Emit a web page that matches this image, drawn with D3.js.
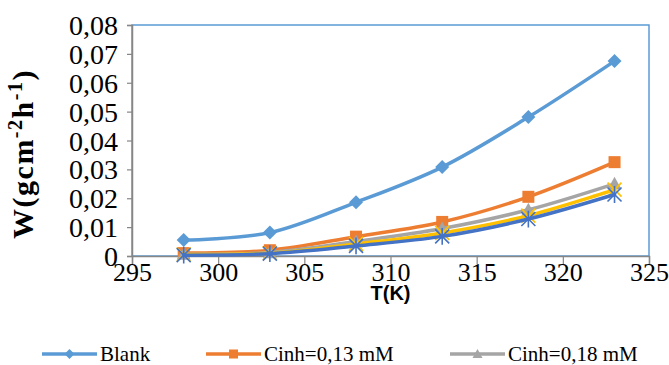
<!DOCTYPE html>
<html>
<head>
<meta charset="utf-8">
<script src="https://cdn.jsdelivr.net/npm/d3@7"></script>
<style>
  body { margin: 0; background: #fff; }
  svg { display: block; }
</style>
</head>
<body>
<script>
const w = 669;
const h = 365;

// data
const temps = [298, 303, 308, 313, 318, 323];
const blank = [0.0055, 0.0081, 0.0186, 0.0308, 0.0481, 0.0675];
const cinh013 = [0.0010, 0.0020, 0.0067, 0.0118, 0.0205, 0.0325];
const cinh018 = [0.0006, 0.0012, 0.0050, 0.0095, 0.0160, 0.0250];
const cinh4 = [0.0005, 0.0010, 0.0042, 0.0080, 0.0140, 0.0230];
const cinh5 = [0.0003, 0.0008, 0.0035, 0.0068, 0.0128, 0.0213];
const seriesNames = ['Blank', 'Cinh=0,13 mM', 'Cinh=0,18 mM', 'Cinh=0,22 mM', 'Cinh=0,27 mM'];
const xTicks = [295, 300, 305, 310, 315, 320, 325];
const yTicks = [0, 0.01, 0.02, 0.03, 0.04, 0.05, 0.06, 0.07, 0.08];

const colors = ['#5b9bd5', '#ed7d31', '#a5a5a5', '#ffc000', '#4472c4'];
const shapes = ['diamond', 'square', 'triangle', 'x', 'star'];
const allVals = [blank, cinh013, cinh018, cinh4, cinh5];

const series = allVals.map((v, i) => ({
  name: seriesNames[i],
  color: colors[i],
  shape: shapes[i],
  pts: temps.map((t, j) => ({t: t, v: v[j]}))
}));

const m = {left: 132, right: 20, top: 25, bottom: 109};

const svg = d3.select('body').append('svg')
  .attr('width', w)
  .attr('height', h);

const x = d3.scaleLinear().domain([295, 325]).range([m.left, w - m.right]);
const y = d3.scaleLinear().domain([0, 0.08]).range([h - m.bottom, m.top]);

const fmt = d => d === 0 ? '0' : d3.format('.2f')(d).replace('.', ',');
const serif = '"Liberation Serif", "Times New Roman", serif';

// plot area frame
svg.append('rect')
  .attr('x', x(295)).attr('y', y(0.08))
  .attr('width', x(325) - x(295)).attr('height', y(0) - y(0.08))
  .attr('fill', 'none')
  .attr('stroke', '#5b9bd5')
  .attr('stroke-width', 1.5);

// axes
const xAxis = svg.append('g')
  .attr('transform', `translate(0,${y(0)})`)
  .call(d3.axisBottom(x).tickValues(xTicks).tickSize(8).tickPadding(0).tickFormat(d3.format('d')));
const yAxis = svg.append('g')
  .attr('transform', `translate(${x(295)},0)`)
  .call(d3.axisLeft(y).tickValues(yTicks).tickSize(5).tickPadding(9).tickFormat(fmt));

[xAxis, yAxis].forEach(a => {
  a.select('.domain').attr('stroke', '#868686').attr('stroke-width', 1.5);
  a.selectAll('.tick line').attr('stroke', '#868686').attr('stroke-width', 1.2);
  a.selectAll('text')
    .attr('fill', '#000')
    .style('font-family', serif);
});
yAxis.selectAll('text').attr('dy', '0.34em').style('font-size', '28px');
xAxis.selectAll('text').attr('y', 8).attr('dy', '0.64em').style('font-size', '26px');

// axis titles
svg.append('text')
  .attr('x', (x(295) + x(325)) / 2)
  .attr('y', 300)
  .attr('text-anchor', 'middle')
  .style('font-family', '"Liberation Sans", Arial, sans-serif')
  .style('font-weight', 'bold')
  .style('font-size', '20px')
  .text('T(K)');

const yt = svg.append('text')
  .attr('transform', `translate(33,154) rotate(-90)`)
  .attr('text-anchor', 'middle')
  .style('font-family', serif)
  .style('font-weight', 'bold')
  .style('font-size', '30px')
  .style('letter-spacing', '1.5px');
yt.append('tspan').text('W(gcm');
yt.append('tspan').attr('dy', -11).style('font-size', '20px').text('-2');
yt.append('tspan').attr('dy', 11).text('h');
yt.append('tspan').attr('dy', -11).style('font-size', '20px').text('-1');
yt.append('tspan').attr('dy', 11).text(')');

// marker drawing
function marker(g, shape, color, size) {
  const s = size;
  if (shape === 'diamond') {
    g.append('path').attr('d', `M0,${-s}L${s},0L0,${s}L${-s},0Z`).attr('fill', color);
  } else if (shape === 'square') {
    g.append('rect').attr('x', -s).attr('y', -s).attr('width', 2 * s).attr('height', 2 * s).attr('fill', color);
  } else if (shape === 'triangle') {
    g.append('path').attr('d', `M0,${-s}L${s},${s * 0.8}L${-s},${s * 0.8}Z`).attr('fill', color);
  } else if (shape === 'x') {
    g.append('path').attr('d', `M${-s},${-s}L${s},${s}M${-s},${s}L${s},${-s}`)
      .attr('stroke', color).attr('stroke-width', 1.6);
  } else {
    g.append('path').attr('d', `M${-s},${-s}L${s},${s}M${-s},${s}L${s},${-s}M0,${-s * 1.2}L0,${s * 1.2}`)
      .attr('stroke', color).attr('stroke-width', 1.6);
  }
}

const line = d3.line()
  .x(d => x(d.t))
  .y(d => y(d.v))
  .curve(d3.curveCatmullRom.alpha(0.5));

const sg = svg.selectAll('.series')
  .data(series)
  .enter().append('g')
  .attr('class', 'series');

sg.append('path')
  .attr('d', d => line(d.pts))
  .attr('fill', 'none')
  .attr('stroke', d => d.color)
  .attr('stroke-width', 3.5)
  .attr('stroke-linejoin', 'round')
  .attr('stroke-linecap', 'round');

sg.each(function(d) {
  const g = d3.select(this);
  d.pts.forEach(p => {
    const mg = g.append('g').attr('transform', `translate(${x(p.t)},${y(p.v)})`);
    marker(mg, d.shape, d.color, d.shape === 'square' ? 6 : 7);
  });
});

// legend (only the first three entries fit in the frame)
const legX = [42, 206, 450];
const leg = svg.append('g').attr('class', 'legend');
series.slice(0, 3).forEach((d, i) => {
  const lg = leg.append('g').attr('transform', `translate(${legX[i]},354)`);
  lg.append('line').attr('x1', 0).attr('x2', 55)
    .attr('stroke', d.color).attr('stroke-width', 3.5);
  const mg = lg.append('g').attr('transform', 'translate(27.5,0)');
  marker(mg, d.shape, d.color, d.shape === 'square' ? 4.5 : 5);
  lg.append('text')
    .attr('x', 58).attr('y', 0).attr('dy', '0.32em')
    .style('font-family', serif)
    .style('font-size', '21px')
    .text(d.name);
});
</script>
</body>
</html>
